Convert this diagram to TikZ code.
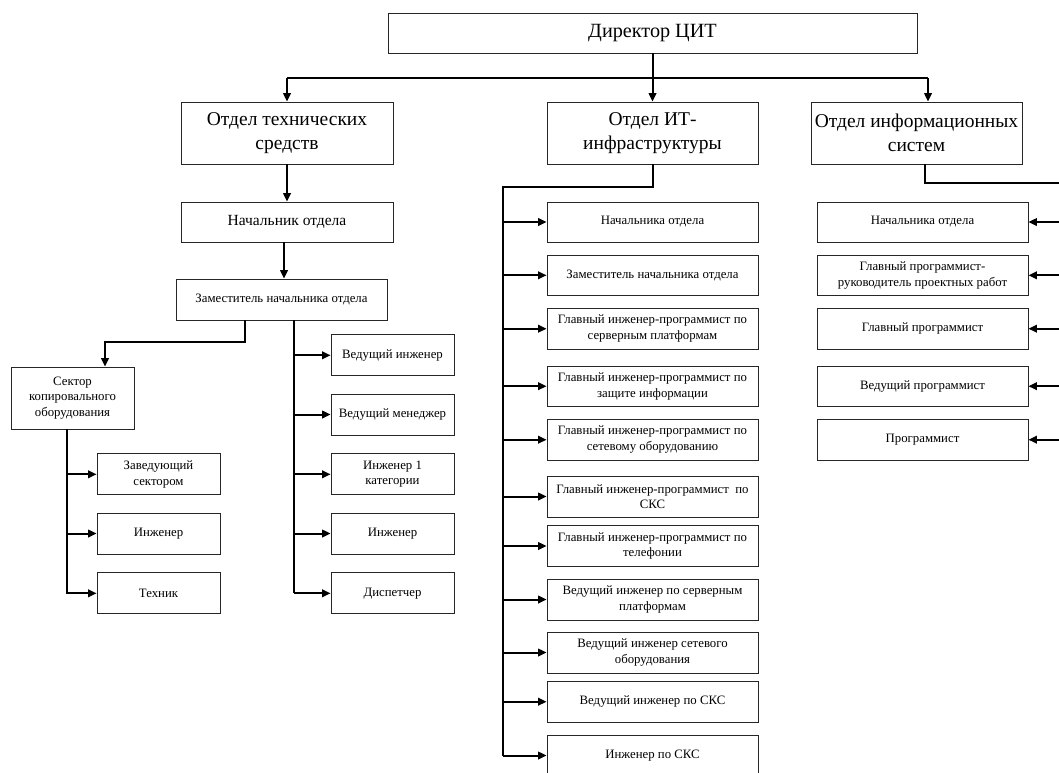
\documentclass[tikz,border=0pt]{standalone}
\usepackage{fontspec}
\setmainfont{Liberation Serif}
\usetikzlibrary{arrows.meta}
\tikzset{
  box/.style={draw=black!85, line width=0.8pt, inner sep=1pt, align=center, anchor=center},
  bigbox/.style={box, font=\fontsize{19.5}{24.5}\selectfont},
  midbox/.style={box, font=\fontsize{15.5}{18.5}\selectfont},
  smallbox/.style={box, font=\fontsize{12.8}{15.6}\selectfont},
  conn/.style={line width=2pt, line join=miter},
  arr/.style={conn, -{Triangle[length=8.5pt,width=7.5pt]}},
}
\begin{document}
\begin{tikzpicture}[x=1pt,y=-1pt]
\useasboundingbox (0,0) rectangle (1059,772);
\clip (0,0) rectangle (1059,772);
\fill[white] (0,0) rectangle (1059,772);

% top level
\node[bigbox, font=\fontsize{20.2}{24}\selectfont, minimum width=529pt, minimum height=40pt] (dir) at (652.5,33) {Директор ЦИТ};
\node[bigbox, minimum width=212pt, minimum height=62pt] (dA) at (287,133) {Отдел технических\\средств};
\node[bigbox, minimum width=211pt, minimum height=62pt] (dB) at (652.5,133) {Отдел ИТ-\\инфраструктуры};
\node[bigbox, minimum width=211pt, minimum height=62pt] (dC) at (916.5,133) {Отдел информационных\\систем};

\coordinate (jn) at (652.5,78);
\coordinate (busL) at (287,78);
\coordinate (busR) at (928,78);
\draw[conn] (dir.south) -- (jn);
\draw[conn] (busL) -- (busR);
\draw[arr] (busL) -- (dA.north);
\draw[arr] (jn) -- (dB.north);
\draw[arr] (busR) -- (busR |- dC.north);

% left department
\node[midbox, minimum width=212pt, minimum height=40pt] (a1) at (287,222) {Начальник отдела};
\node[smallbox, minimum width=211pt, minimum height=41pt] (a2) at (281.5,299.5) {Заместитель начальника отдела};
\node[smallbox, minimum width=123pt, minimum height=62pt] (sec) at (72.5,398) {Сектор\\копировального\\оборудования};
\node[smallbox, minimum width=123pt, minimum height=41pt] (s1) at (158.5,474.3) {Заведующий\\сектором};
\node[smallbox, minimum width=123pt, minimum height=41pt] (s2) at (158.5,533.5) {Инженер};
\node[smallbox, minimum width=123pt, minimum height=41pt] (s3) at (158.5,593.3) {Техник};
\node[smallbox, minimum width=123pt, minimum height=41pt] (z1) at (392.5,355.3) {Ведущий инженер};
\node[smallbox, minimum width=123pt, minimum height=41pt] (z2) at (392.5,414.5) {Ведущий менеджер};
\node[smallbox, minimum width=123pt, minimum height=41pt] (z3) at (392.5,474.3) {Инженер 1\\категории};
\node[smallbox, minimum width=123pt, minimum height=41pt] (z4) at (392.5,533.5) {Инженер};
\node[smallbox, minimum width=123pt, minimum height=41pt] (z5) at (392.5,593.3) {Диспетчер};

\draw[arr] (dA.south) -- (a1.north);
\coordinate (aa) at (284,250);
\draw[arr] (aa |- a1.south) -- (aa |- a2.north);
\coordinate (k1) at (245,342);
\coordinate (k2) at (105,342);
\draw[arr] (k1 |- a2.south) -- (k1) -- (k2) -- (k2 |- sec.north);
\coordinate (zb) at (294,593.3);
\draw[conn] (zb |- a2.south) -- (zb);
\foreach \n in {z1,z2,z3,z4,z5} \draw[arr] (zb |- \n.west) -- (\n.west);
\coordinate (sb) at (67,594.3);
\draw[conn] (sb |- sec.south) -- (sb);
\foreach \n in {s1,s2,s3} \draw[arr] (sb |- \n.west) -- (\n.west);

% middle department
\node[smallbox, minimum width=211pt, minimum height=40pt] (b1) at (652.5,222) {Начальника отдела};
\node[smallbox, minimum width=211pt, minimum height=40.5pt] (b2) at (652.5,275.3) {Заместитель начальника отдела};
\node[smallbox, minimum width=211pt, minimum height=40.5pt] (b3) at (652.5,328.7) {Главный инженер-программист по\\серверным платформам};
\node[smallbox, minimum width=211pt, minimum height=40.5pt] (b4) at (652.5,386.2) {Главный инженер-программист по\\защите информации};
\node[smallbox, minimum width=211pt, minimum height=40.5pt] (b5) at (652.5,439.7) {Главный инженер-программист по\\сетевому оборудованию};
\node[smallbox, minimum width=211pt, minimum height=41pt] (b6) at (652.5,496.5) {Главный инженер-программист\ \ по\\СКС};
\node[smallbox, minimum width=211pt, minimum height=41pt] (b7) at (652.5,546) {Главный инженер-программист по\\телефонии};
\node[smallbox, minimum width=211pt, minimum height=41pt] (b8) at (652.5,599.5) {Ведущий инженер по серверным\\платформам};
\node[smallbox, minimum width=211pt, minimum height=41pt] (b9) at (652.5,652.5) {Ведущий инженер сетевого\\оборудования};
\node[smallbox, minimum width=211pt, minimum height=40.5pt] (b10) at (652.5,701.7) {Ведущий инженер по СКС};
\node[smallbox, minimum width=211pt, minimum height=41pt] (b11) at (652.5,755.5) {Инженер по СКС};

\coordinate (mb1) at (652.5,187);
\coordinate (mb2) at (503,187);
\coordinate (mb3) at (503,755.5);
\draw[conn] (dB.south) -- (mb1) -- (mb2) -- (mb3);
\foreach \n in {b1,b2,b3,b4,b5,b6,b7,b8,b9,b10,b11} \draw[arr] (mb2 |- \n.west) -- (\n.west);

% right department
\node[smallbox, minimum width=211pt, minimum height=40pt] (c1) at (922.5,222) {Начальника отдела};
\node[smallbox, minimum width=211pt, minimum height=40.5pt] (c2) at (922.5,275.3) {Главный программист-\\руководитель проектных работ};
\node[smallbox, minimum width=211pt, minimum height=40.5pt] (c3) at (922.5,328.7) {Главный программист};
\node[smallbox, minimum width=211pt, minimum height=40.5pt] (c4) at (922.5,386.2) {Ведущий программист};
\node[smallbox, minimum width=211pt, minimum height=40.5pt] (c5) at (922.5,439.7) {Программист};

\coordinate (rb1) at (925,183);
\coordinate (rb2) at (1066,183);
\draw[conn] (rb1 |- dC.south) -- (rb1) -- (rb2) -- (rb2 |- c5.east);
\foreach \n in {c1,c2,c3,c4,c5} \draw[arr] (rb2 |- \n.east) -- (\n.east);
\end{tikzpicture}
\end{document}
